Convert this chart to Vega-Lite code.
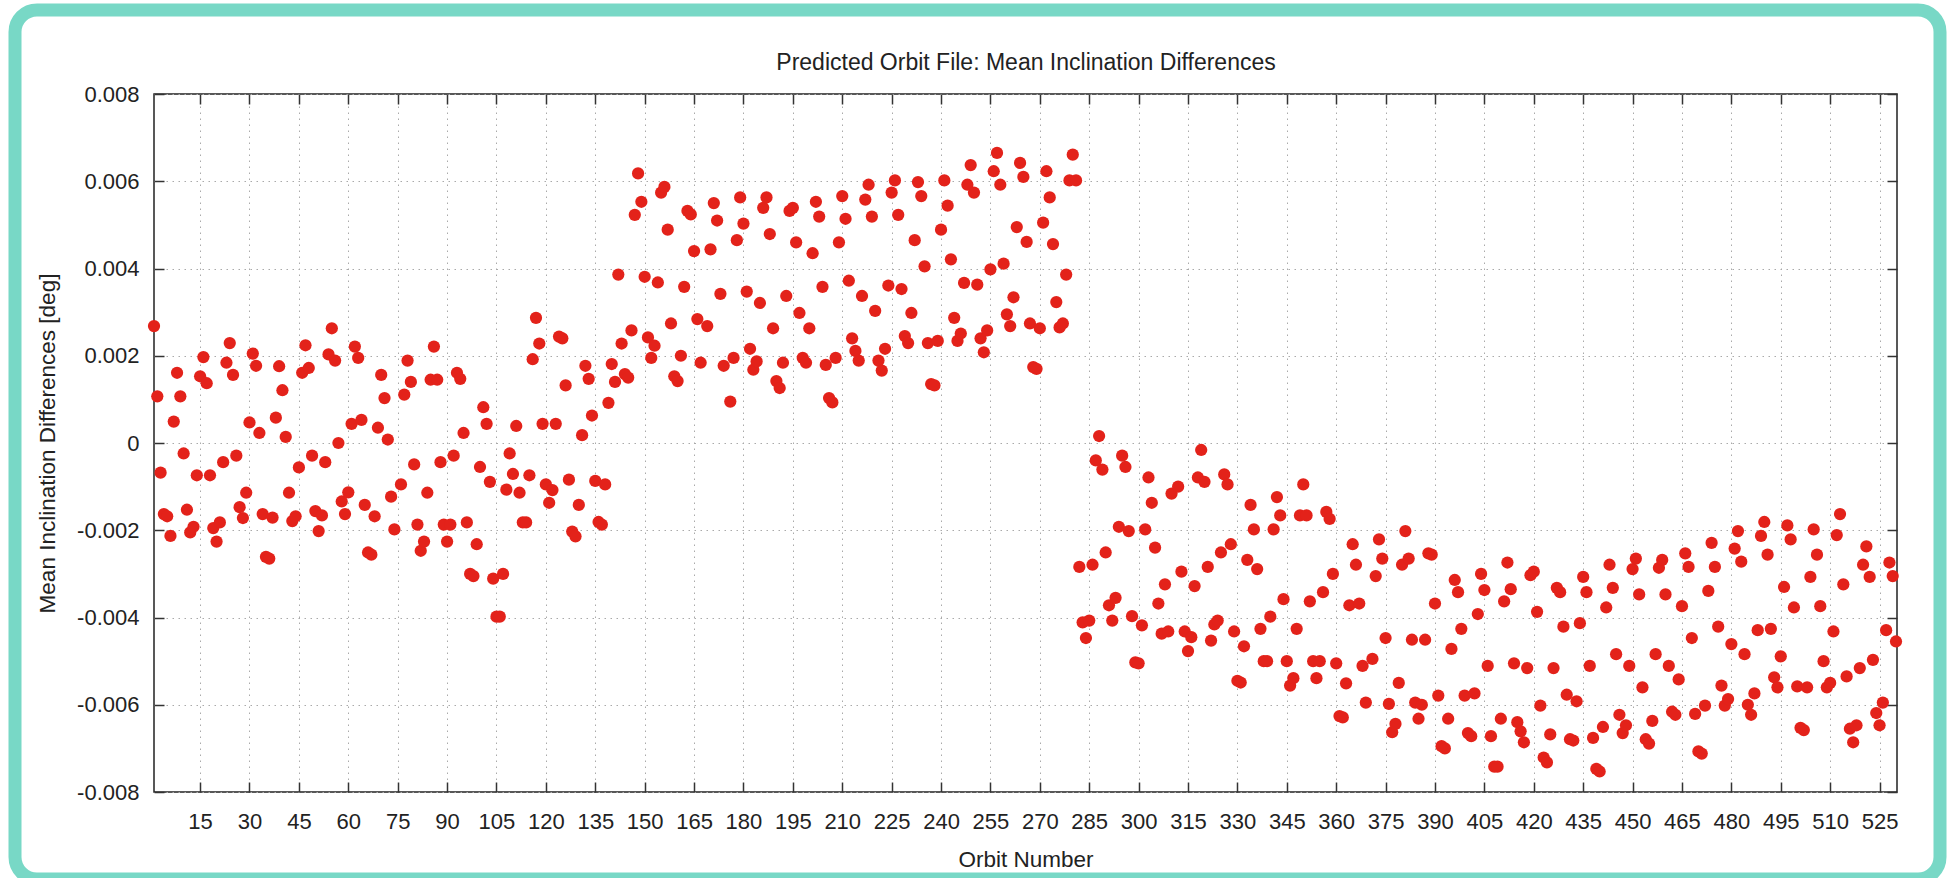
{
  "$schema": "https://vega.github.io/schema/vega-lite/v6.json",
  "width": 1743,
  "height": 698,
  "autosize": {"type": "none"},
  "padding": {"left": 154, "top": 94, "right": 52, "bottom": 86},
  "background": "white",
  "data": {
    "values": [
      {"orbit":1,"diff":0.00268},{"orbit":2,"diff":0.00107},{"orbit":3,"diff":-0.00068},{"orbit":4,"diff":-0.00163},{"orbit":5,"diff":-0.00168},{"orbit":6,"diff":-0.00213},{"orbit":7,"diff":0.00049},{"orbit":8,"diff":0.00161},{"orbit":9,"diff":0.00107},{"orbit":10,"diff":-0.00024},
      {"orbit":11,"diff":-0.00153},{"orbit":12,"diff":-0.00205},{"orbit":13,"diff":-0.00192},{"orbit":14,"diff":-0.00074},{"orbit":15,"diff":0.00153},{"orbit":16,"diff":0.00197},{"orbit":17,"diff":0.00137},{"orbit":18,"diff":-0.00074},{"orbit":19,"diff":-0.00195},{"orbit":20,"diff":-0.00226},
      {"orbit":21,"diff":-0.00182},{"orbit":22,"diff":-0.00044},{"orbit":23,"diff":0.00184},{"orbit":24,"diff":0.00229},{"orbit":25,"diff":0.00156},{"orbit":26,"diff":-0.00029},{"orbit":27,"diff":-0.00147},{"orbit":28,"diff":-0.00172},{"orbit":29,"diff":-0.00114},{"orbit":30,"diff":0.00047},
      {"orbit":31,"diff":0.00205},{"orbit":32,"diff":0.00177},{"orbit":33,"diff":0.00023},{"orbit":34,"diff":-0.00163},{"orbit":35,"diff":-0.00261},{"orbit":36,"diff":-0.00265},{"orbit":37,"diff":-0.00171},{"orbit":38,"diff":0.00058},{"orbit":39,"diff":0.00176},{"orbit":40,"diff":0.00121},
      {"orbit":41,"diff":0.00014},{"orbit":42,"diff":-0.00114},{"orbit":43,"diff":-0.00179},{"orbit":44,"diff":-0.00168},{"orbit":45,"diff":-0.00056},{"orbit":46,"diff":0.00161},{"orbit":47,"diff":0.00224},{"orbit":48,"diff":0.00172},{"orbit":49,"diff":-0.00029},{"orbit":50,"diff":-0.00156},
      {"orbit":51,"diff":-0.00202},{"orbit":52,"diff":-0.00166},{"orbit":53,"diff":-0.00044},{"orbit":54,"diff":0.00203},{"orbit":55,"diff":0.00263},{"orbit":56,"diff":0.00189},{"orbit":57,"diff":0.0},{"orbit":58,"diff":-0.00134},{"orbit":59,"diff":-0.00163},{"orbit":60,"diff":-0.00113},
      {"orbit":61,"diff":0.00044},{"orbit":62,"diff":0.00221},{"orbit":63,"diff":0.00195},{"orbit":64,"diff":0.00053},{"orbit":65,"diff":-0.00142},{"orbit":66,"diff":-0.00251},{"orbit":67,"diff":-0.00256},{"orbit":68,"diff":-0.00168},{"orbit":69,"diff":0.00035},{"orbit":70,"diff":0.00156},
      {"orbit":71,"diff":0.00103},{"orbit":72,"diff":0.00008},{"orbit":73,"diff":-0.00123},{"orbit":74,"diff":-0.00198},{"orbit":76,"diff":-0.00095},{"orbit":77,"diff":0.00111},{"orbit":78,"diff":0.00189},{"orbit":79,"diff":0.0014},{"orbit":80,"diff":-0.00049},
      {"orbit":81,"diff":-0.00187},{"orbit":82,"diff":-0.00247},{"orbit":83,"diff":-0.00226},{"orbit":84,"diff":-0.00114},{"orbit":85,"diff":0.00145},{"orbit":86,"diff":0.00221},{"orbit":87,"diff":0.00145},{"orbit":88,"diff":-0.00044},{"orbit":89,"diff":-0.00187},{"orbit":90,"diff":-0.00226},
      {"orbit":91,"diff":-0.00187},{"orbit":92,"diff":-0.00029},{"orbit":93,"diff":0.00161},{"orbit":94,"diff":0.00147},{"orbit":95,"diff":0.00023},{"orbit":96,"diff":-0.00182},{"orbit":97,"diff":-0.003},{"orbit":98,"diff":-0.00305},{"orbit":99,"diff":-0.00232},{"orbit":100,"diff":-0.00055},
      {"orbit":101,"diff":0.00082},{"orbit":102,"diff":0.00044},{"orbit":103,"diff":-0.00089},{"orbit":104,"diff":-0.00311},{"orbit":105,"diff":-0.00398},{"orbit":106,"diff":-0.00398},{"orbit":107,"diff":-0.003},{"orbit":108,"diff":-0.00107},{"orbit":109,"diff":-0.00024},{"orbit":110,"diff":-0.00071},
      {"orbit":111,"diff":0.00039},{"orbit":112,"diff":-0.00114},{"orbit":113,"diff":-0.00182},{"orbit":114,"diff":-0.00182},{"orbit":115,"diff":-0.00074},{"orbit":116,"diff":0.00192},{"orbit":117,"diff":0.00287},{"orbit":118,"diff":0.00228},{"orbit":119,"diff":0.00044},{"orbit":120,"diff":-0.00095},
      {"orbit":121,"diff":-0.00137},{"orbit":122,"diff":-0.00108},{"orbit":123,"diff":0.00044},{"orbit":124,"diff":0.00244},{"orbit":125,"diff":0.0024},{"orbit":126,"diff":0.00132},{"orbit":127,"diff":-0.00084},{"orbit":128,"diff":-0.00203},{"orbit":129,"diff":-0.00214},{"orbit":130,"diff":-0.00142},
      {"orbit":131,"diff":0.00018},{"orbit":132,"diff":0.00177},{"orbit":133,"diff":0.00147},{"orbit":134,"diff":0.00063},{"orbit":135,"diff":-0.00087},{"orbit":136,"diff":-0.00181},{"orbit":137,"diff":-0.00187},{"orbit":138,"diff":-0.00095},{"orbit":139,"diff":0.00092},{"orbit":140,"diff":0.00181},
      {"orbit":141,"diff":0.0014},{"orbit":142,"diff":0.00386},{"orbit":143,"diff":0.00228},{"orbit":144,"diff":0.00158},{"orbit":145,"diff":0.0015},{"orbit":146,"diff":0.00258},{"orbit":147,"diff":0.00523},{"orbit":148,"diff":0.00618},{"orbit":149,"diff":0.00553},{"orbit":150,"diff":0.00381},
      {"orbit":151,"diff":0.00242},{"orbit":152,"diff":0.00195},{"orbit":153,"diff":0.00223},{"orbit":154,"diff":0.00368},{"orbit":155,"diff":0.00574},{"orbit":156,"diff":0.00587},{"orbit":157,"diff":0.00489},{"orbit":158,"diff":0.00274},{"orbit":159,"diff":0.00153},{"orbit":160,"diff":0.00142},
      {"orbit":161,"diff":0.002},{"orbit":162,"diff":0.00358},{"orbit":163,"diff":0.00532},{"orbit":164,"diff":0.00524},{"orbit":165,"diff":0.0044},{"orbit":166,"diff":0.00284},{"orbit":167,"diff":0.00184},{"orbit":169,"diff":0.00268},{"orbit":170,"diff":0.00444},
      {"orbit":171,"diff":0.0055},{"orbit":172,"diff":0.0051},{"orbit":173,"diff":0.00342},{"orbit":174,"diff":0.00177},{"orbit":176,"diff":0.00095},{"orbit":177,"diff":0.00195},{"orbit":178,"diff":0.00465},{"orbit":179,"diff":0.00563},{"orbit":180,"diff":0.00503},
      {"orbit":181,"diff":0.00347},{"orbit":182,"diff":0.00216},{"orbit":183,"diff":0.00168},{"orbit":184,"diff":0.00187},{"orbit":185,"diff":0.00321},{"orbit":186,"diff":0.00539},{"orbit":187,"diff":0.00563},{"orbit":188,"diff":0.00479},{"orbit":189,"diff":0.00263},{"orbit":190,"diff":0.00142},
      {"orbit":191,"diff":0.00126},{"orbit":192,"diff":0.00184},{"orbit":193,"diff":0.00337},{"orbit":194,"diff":0.00532},{"orbit":195,"diff":0.00539},{"orbit":196,"diff":0.0046},{"orbit":197,"diff":0.00298},{"orbit":198,"diff":0.00195},{"orbit":199,"diff":0.00184},{"orbit":200,"diff":0.00263},
      {"orbit":201,"diff":0.00435},{"orbit":202,"diff":0.00553},{"orbit":203,"diff":0.00519},{"orbit":204,"diff":0.00358},{"orbit":205,"diff":0.00179},{"orbit":206,"diff":0.00103},{"orbit":207,"diff":0.00093},{"orbit":208,"diff":0.00195},{"orbit":209,"diff":0.0046},{"orbit":210,"diff":0.00566},
      {"orbit":211,"diff":0.00514},{"orbit":212,"diff":0.00372},{"orbit":213,"diff":0.0024},{"orbit":214,"diff":0.00211},{"orbit":215,"diff":0.00189},{"orbit":216,"diff":0.00337},{"orbit":217,"diff":0.00558},{"orbit":218,"diff":0.00592},{"orbit":219,"diff":0.00519},{"orbit":220,"diff":0.00303},
      {"orbit":221,"diff":0.00189},{"orbit":222,"diff":0.00166},{"orbit":223,"diff":0.00216},{"orbit":224,"diff":0.00361},{"orbit":225,"diff":0.00574},{"orbit":226,"diff":0.00602},{"orbit":227,"diff":0.00523},{"orbit":228,"diff":0.00353},{"orbit":229,"diff":0.00245},{"orbit":230,"diff":0.00229},
      {"orbit":231,"diff":0.00298},{"orbit":232,"diff":0.00465},{"orbit":233,"diff":0.00598},{"orbit":234,"diff":0.00566},{"orbit":235,"diff":0.00405},{"orbit":236,"diff":0.00229},{"orbit":237,"diff":0.00135},{"orbit":238,"diff":0.00132},{"orbit":239,"diff":0.00234},{"orbit":240,"diff":0.00489},
      {"orbit":241,"diff":0.00602},{"orbit":242,"diff":0.00544},{"orbit":243,"diff":0.00421},{"orbit":244,"diff":0.00287},{"orbit":245,"diff":0.00234},{"orbit":246,"diff":0.00251},{"orbit":247,"diff":0.00367},{"orbit":248,"diff":0.00592},{"orbit":249,"diff":0.00637},{"orbit":250,"diff":0.00574},
      {"orbit":251,"diff":0.00363},{"orbit":252,"diff":0.0024},{"orbit":253,"diff":0.00208},{"orbit":254,"diff":0.00258},{"orbit":255,"diff":0.00398},{"orbit":256,"diff":0.00623},{"orbit":257,"diff":0.00665},{"orbit":258,"diff":0.00592},{"orbit":259,"diff":0.00411},{"orbit":260,"diff":0.00295},
      {"orbit":261,"diff":0.00268},{"orbit":262,"diff":0.00334},{"orbit":263,"diff":0.00495},{"orbit":264,"diff":0.00642},{"orbit":265,"diff":0.0061},{"orbit":266,"diff":0.00461},{"orbit":267,"diff":0.00274},{"orbit":268,"diff":0.00174},{"orbit":269,"diff":0.0017},{"orbit":270,"diff":0.00263},
      {"orbit":271,"diff":0.00505},{"orbit":272,"diff":0.00623},{"orbit":273,"diff":0.00563},{"orbit":274,"diff":0.00456},{"orbit":275,"diff":0.00323},{"orbit":276,"diff":0.00265},{"orbit":277,"diff":0.00274},{"orbit":278,"diff":0.00386},{"orbit":279,"diff":0.00602},{"orbit":280,"diff":0.00661},
      {"orbit":281,"diff":0.00602},{"orbit":282,"diff":-0.00284},{"orbit":283,"diff":-0.00411},{"orbit":284,"diff":-0.00447},{"orbit":285,"diff":-0.00407},{"orbit":286,"diff":-0.00279},{"orbit":287,"diff":-0.0004},{"orbit":288,"diff":0.00016},{"orbit":289,"diff":-0.00061},{"orbit":290,"diff":-0.00251},
      {"orbit":291,"diff":-0.00372},{"orbit":292,"diff":-0.00407},{"orbit":293,"diff":-0.00355},{"orbit":294,"diff":-0.00192},{"orbit":295,"diff":-0.00029},{"orbit":296,"diff":-0.00055},{"orbit":297,"diff":-0.00202},{"orbit":298,"diff":-0.00397},{"orbit":299,"diff":-0.00503},{"orbit":300,"diff":-0.00505},
      {"orbit":301,"diff":-0.00418},{"orbit":302,"diff":-0.00198},{"orbit":303,"diff":-0.00079},{"orbit":304,"diff":-0.00137},{"orbit":305,"diff":-0.0024},{"orbit":306,"diff":-0.00368},{"orbit":307,"diff":-0.00437},{"orbit":308,"diff":-0.00324},{"orbit":309,"diff":-0.00432},{"orbit":310,"diff":-0.00116},
      {"orbit":312,"diff":-0.001},{"orbit":313,"diff":-0.00295},{"orbit":314,"diff":-0.00432},{"orbit":315,"diff":-0.00477},{"orbit":316,"diff":-0.00445},{"orbit":317,"diff":-0.00328},{"orbit":318,"diff":-0.00079},{"orbit":319,"diff":-0.00016},{"orbit":320,"diff":-0.00089},
      {"orbit":321,"diff":-0.00284},{"orbit":322,"diff":-0.00453},{"orbit":323,"diff":-0.00416},{"orbit":324,"diff":-0.00407},{"orbit":325,"diff":-0.00251},{"orbit":326,"diff":-0.00072},{"orbit":327,"diff":-0.00095},{"orbit":328,"diff":-0.00232},{"orbit":329,"diff":-0.00432},{"orbit":330,"diff":-0.00545},
      {"orbit":331,"diff":-0.00549},{"orbit":332,"diff":-0.00466},{"orbit":333,"diff":-0.00268},{"orbit":334,"diff":-0.00142},{"orbit":335,"diff":-0.00198},{"orbit":336,"diff":-0.00289},{"orbit":337,"diff":-0.00426},{"orbit":338,"diff":-0.005},{"orbit":339,"diff":-0.005},{"orbit":340,"diff":-0.00398},
      {"orbit":341,"diff":-0.00198},{"orbit":342,"diff":-0.00124},{"orbit":343,"diff":-0.00166},{"orbit":344,"diff":-0.00358},{"orbit":345,"diff":-0.005},{"orbit":346,"diff":-0.00556},{"orbit":347,"diff":-0.00539},{"orbit":348,"diff":-0.00426},{"orbit":349,"diff":-0.00166},{"orbit":350,"diff":-0.00095},
      {"orbit":351,"diff":-0.00166},{"orbit":352,"diff":-0.00363},{"orbit":353,"diff":-0.005},{"orbit":354,"diff":-0.00539},{"orbit":355,"diff":-0.005},{"orbit":356,"diff":-0.00342},{"orbit":357,"diff":-0.00158},{"orbit":358,"diff":-0.00174},{"orbit":359,"diff":-0.003},{"orbit":360,"diff":-0.00505},
      {"orbit":361,"diff":-0.00626},{"orbit":362,"diff":-0.00629},{"orbit":363,"diff":-0.00551},{"orbit":364,"diff":-0.00372},{"orbit":365,"diff":-0.00232},{"orbit":366,"diff":-0.00279},{"orbit":367,"diff":-0.00368},{"orbit":368,"diff":-0.00511},{"orbit":369,"diff":-0.00595},
      {"orbit":371,"diff":-0.00495},{"orbit":372,"diff":-0.00305},{"orbit":373,"diff":-0.00221},{"orbit":374,"diff":-0.00265},{"orbit":375,"diff":-0.00447},{"orbit":376,"diff":-0.00598},{"orbit":377,"diff":-0.00663},{"orbit":378,"diff":-0.00644},{"orbit":379,"diff":-0.0055},{"orbit":380,"diff":-0.00279},
      {"orbit":381,"diff":-0.00202},{"orbit":382,"diff":-0.00265},{"orbit":383,"diff":-0.00451},{"orbit":384,"diff":-0.00595},{"orbit":385,"diff":-0.00632},{"orbit":386,"diff":-0.006},{"orbit":387,"diff":-0.00451},{"orbit":388,"diff":-0.00253},{"orbit":389,"diff":-0.00256},{"orbit":390,"diff":-0.00368},
      {"orbit":391,"diff":-0.00579},{"orbit":392,"diff":-0.00695},{"orbit":393,"diff":-0.007},{"orbit":394,"diff":-0.00632},{"orbit":395,"diff":-0.00472},{"orbit":396,"diff":-0.00314},{"orbit":397,"diff":-0.00342},{"orbit":398,"diff":-0.00426},{"orbit":399,"diff":-0.00579},{"orbit":400,"diff":-0.00665},
      {"orbit":401,"diff":-0.00672},{"orbit":402,"diff":-0.00574},{"orbit":403,"diff":-0.00392},{"orbit":404,"diff":-0.003},{"orbit":405,"diff":-0.00337},{"orbit":406,"diff":-0.00511},{"orbit":407,"diff":-0.00672},{"orbit":408,"diff":-0.00742},{"orbit":409,"diff":-0.00742},{"orbit":410,"diff":-0.00632},
      {"orbit":411,"diff":-0.00363},{"orbit":412,"diff":-0.00274},{"orbit":413,"diff":-0.00335},{"orbit":414,"diff":-0.00505},{"orbit":415,"diff":-0.0064},{"orbit":416,"diff":-0.00661},{"orbit":417,"diff":-0.00686},{"orbit":418,"diff":-0.00516},{"orbit":419,"diff":-0.00303},{"orbit":420,"diff":-0.00295},
      {"orbit":421,"diff":-0.00387},{"orbit":422,"diff":-0.00602},{"orbit":423,"diff":-0.00721},{"orbit":424,"diff":-0.00732},{"orbit":425,"diff":-0.00668},{"orbit":426,"diff":-0.00516},{"orbit":427,"diff":-0.00332},{"orbit":428,"diff":-0.00342},{"orbit":429,"diff":-0.00421},{"orbit":430,"diff":-0.00577},
      {"orbit":431,"diff":-0.00679},{"orbit":432,"diff":-0.00682},{"orbit":433,"diff":-0.00592},{"orbit":434,"diff":-0.00413},{"orbit":435,"diff":-0.00307},{"orbit":436,"diff":-0.00342},{"orbit":437,"diff":-0.00511},{"orbit":438,"diff":-0.00676},{"orbit":439,"diff":-0.00747},{"orbit":440,"diff":-0.00753},
      {"orbit":441,"diff":-0.00651},{"orbit":442,"diff":-0.00377},{"orbit":443,"diff":-0.00279},{"orbit":444,"diff":-0.00332},{"orbit":445,"diff":-0.00484},{"orbit":446,"diff":-0.00623},{"orbit":447,"diff":-0.00665},{"orbit":448,"diff":-0.00647},{"orbit":449,"diff":-0.00511},{"orbit":450,"diff":-0.00289},
      {"orbit":451,"diff":-0.00265},{"orbit":452,"diff":-0.00347},{"orbit":453,"diff":-0.0056},{"orbit":454,"diff":-0.00679},{"orbit":455,"diff":-0.00689},{"orbit":456,"diff":-0.00637},{"orbit":457,"diff":-0.00484},{"orbit":458,"diff":-0.00286},{"orbit":459,"diff":-0.00268},{"orbit":460,"diff":-0.00347},
      {"orbit":461,"diff":-0.00511},{"orbit":462,"diff":-0.00616},{"orbit":463,"diff":-0.00623},{"orbit":464,"diff":-0.00542},{"orbit":465,"diff":-0.00374},{"orbit":466,"diff":-0.00253},{"orbit":467,"diff":-0.00284},{"orbit":468,"diff":-0.00447},{"orbit":469,"diff":-0.00621},{"orbit":470,"diff":-0.00707},
      {"orbit":471,"diff":-0.00712},{"orbit":472,"diff":-0.00602},{"orbit":473,"diff":-0.00339},{"orbit":474,"diff":-0.00229},{"orbit":475,"diff":-0.00284},{"orbit":476,"diff":-0.00421},{"orbit":477,"diff":-0.00556},{"orbit":478,"diff":-0.00602},{"orbit":479,"diff":-0.00587},{"orbit":480,"diff":-0.00461},
      {"orbit":481,"diff":-0.00242},{"orbit":482,"diff":-0.00202},{"orbit":483,"diff":-0.00272},{"orbit":484,"diff":-0.00484},{"orbit":485,"diff":-0.006},{"orbit":486,"diff":-0.00623},{"orbit":487,"diff":-0.00574},{"orbit":488,"diff":-0.00429},{"orbit":489,"diff":-0.00213},{"orbit":490,"diff":-0.00181},
      {"orbit":491,"diff":-0.00256},{"orbit":492,"diff":-0.00426},{"orbit":493,"diff":-0.00537},{"orbit":494,"diff":-0.0056},{"orbit":495,"diff":-0.00489},{"orbit":496,"diff":-0.0033},{"orbit":497,"diff":-0.00189},{"orbit":498,"diff":-0.00221},{"orbit":499,"diff":-0.00377},{"orbit":500,"diff":-0.00558},
      {"orbit":501,"diff":-0.00653},{"orbit":502,"diff":-0.00658},{"orbit":503,"diff":-0.0056},{"orbit":504,"diff":-0.00307},{"orbit":505,"diff":-0.00198},{"orbit":506,"diff":-0.00256},{"orbit":507,"diff":-0.00374},{"orbit":508,"diff":-0.005},{"orbit":509,"diff":-0.0056},{"orbit":510,"diff":-0.0055},
      {"orbit":511,"diff":-0.00432},{"orbit":512,"diff":-0.00211},{"orbit":513,"diff":-0.00163},{"orbit":514,"diff":-0.00324},{"orbit":515,"diff":-0.00535},{"orbit":516,"diff":-0.00655},{"orbit":517,"diff":-0.00686},{"orbit":518,"diff":-0.00647},{"orbit":519,"diff":-0.00516},{"orbit":520,"diff":-0.00279},
      {"orbit":521,"diff":-0.00237},{"orbit":522,"diff":-0.00307},{"orbit":523,"diff":-0.00497},{"orbit":524,"diff":-0.00619},{"orbit":525,"diff":-0.00647},{"orbit":526,"diff":-0.00595},{"orbit":527,"diff":-0.00429},{"orbit":528,"diff":-0.00274},{"orbit":529,"diff":-0.00305},{"orbit":530,"diff":-0.00455}
    ]
  },
  "layer": [
    {
      "mark": {"type": "circle", "size": 150, "opacity": 1},
      "encoding": {
        "x": {
          "field": "orbit", "type": "quantitative",
          "scale": {"domain": [1, 530.3], "nice": false, "zero": false},
          "axis": {
            "orient": "bottom",
            "title": "Orbit Number",
            "values": [15,30,45,60,75,90,105,120,135,150,165,180,195,210,225,240,255,270,285,300,315,330,345,360,375,390,405,420,435,450,465,480,495,510,525],
            "labelExpr": "format(datum.value, 'd')",
            "labelFont": "Liberation Sans", "labelFontSize": 22, "labelColor": "#222",
            "labelBaseline": "middle", "labelPadding": 39, "labelFlush": false, "labelOverlap": false,
            "ticks": true, "tickSize": -10, "tickColor": "#333", "tickWidth": 1.5,
            "domain": false,
            "grid": true, "gridColor": "#aaaaaa", "gridDash": [1.5, 4.5], "gridWidth": 1,
            "titleFont": "Liberation Sans", "titleFontSize": 22.5, "titleFontWeight": "normal", "titleColor": "#222",
            "titleX": 871.5, "titleY": 67, "titleAlign": "center", "titleBaseline": "middle"
          }
        },
        "y": {
          "field": "diff", "type": "quantitative",
          "scale": {"domain": [-0.008, 0.008], "nice": false, "zero": false},
          "axis": {
            "orient": "left",
            "title": "Mean Inclination Differences [deg]",
            "values": [-0.008,-0.006,-0.004,-0.002,0,0.002,0.004,0.006,0.008],
            "labelExpr": "abs(datum.value) < 1e-9 ? '0' : (datum.value < 0 ? '-' : '') + format(abs(datum.value), '.3f')",
            "labelFont": "Liberation Sans", "labelFontSize": 22, "labelColor": "#222",
            "labelPadding": 25, "labelFlush": false, "labelOverlap": false, "labelBaseline": "middle",
            "ticks": true, "tickSize": -10, "tickColor": "#333", "tickWidth": 1.5,
            "domain": false,
            "grid": true, "gridColor": "#aaaaaa", "gridDash": [1.5, 4.5], "gridWidth": 1,
            "titleFont": "Liberation Sans", "titleFontSize": 22.5, "titleFontWeight": "normal", "titleColor": "#222",
            "titleX": -107, "titleY": 349, "titleAngle": -90, "titleAlign": "center", "titleBaseline": "middle"
          }
        },
        "color": {
          "field": "diff", "type": "quantitative",
          "scale": {"domain": [-0.008, 0.008], "range": ["#e3221a", "#e3221a"]},
          "legend": {
            "type": "gradient",
            "direction": "horizontal",
            "orient": "none",
            "legendX": -139,
            "legendY": -84,
            "gradientLength": 1925,
            "gradientThickness": 866,
            "gradientOpacity": 0,
            "gradientStrokeWidth": 0,
            "labels": false,
            "values": [0],
            "labelExpr": "''",
            "labelOpacity": 0,
            "labelFontSize": 1,
            "title": null,
            "padding": 0,
            "offset": 0,
            "strokeColor": "#78d8c6",
            "cornerRadius": 22
          }
        }
      }
    },
    {
      "mark": {"type": "circle", "size": 150, "opacity": 0},
      "encoding": {
        "x": {
          "field": "orbit", "type": "quantitative",
          "axis": {
            "orient": "top",
            "title": "Predicted Orbit File: Mean Inclination Differences",
            "titleFont": "Liberation Sans", "titleFontSize": 23, "titleFontWeight": "normal", "titleColor": "#222",
            "titleX": 871.5, "titleY": -32, "titleAlign": "center", "titleBaseline": "middle",
            "labels": false, "grid": false, "domain": false,
            "values": [15,30,45,60,75,90,105,120,135,150,165,180,195,210,225,240,255,270,285,300,315,330,345,360,375,390,405,420,435,450,465,480,495,510,525],
            "ticks": true, "tickSize": -10, "tickColor": "#333", "tickWidth": 1.5
          }
        },
        "y": {
          "field": "diff", "type": "quantitative",
          "axis": {
            "orient": "right", "title": null, "labels": false, "grid": false, "domain": false,
            "values": [-0.008,-0.006,-0.004,-0.002,0,0.002,0.004,0.006,0.008],
            "ticks": true, "tickSize": -10, "tickColor": "#333", "tickWidth": 1.5
          }
        }
      }
    }
  ],
  "resolve": {"axis": {"x": "independent", "y": "independent"}},
  "config": {
    "view": {"stroke": "#222", "strokeWidth": 1.5},
    "font": "Liberation Sans",
    "legend": {"strokeWidth": 13}
  }
}
